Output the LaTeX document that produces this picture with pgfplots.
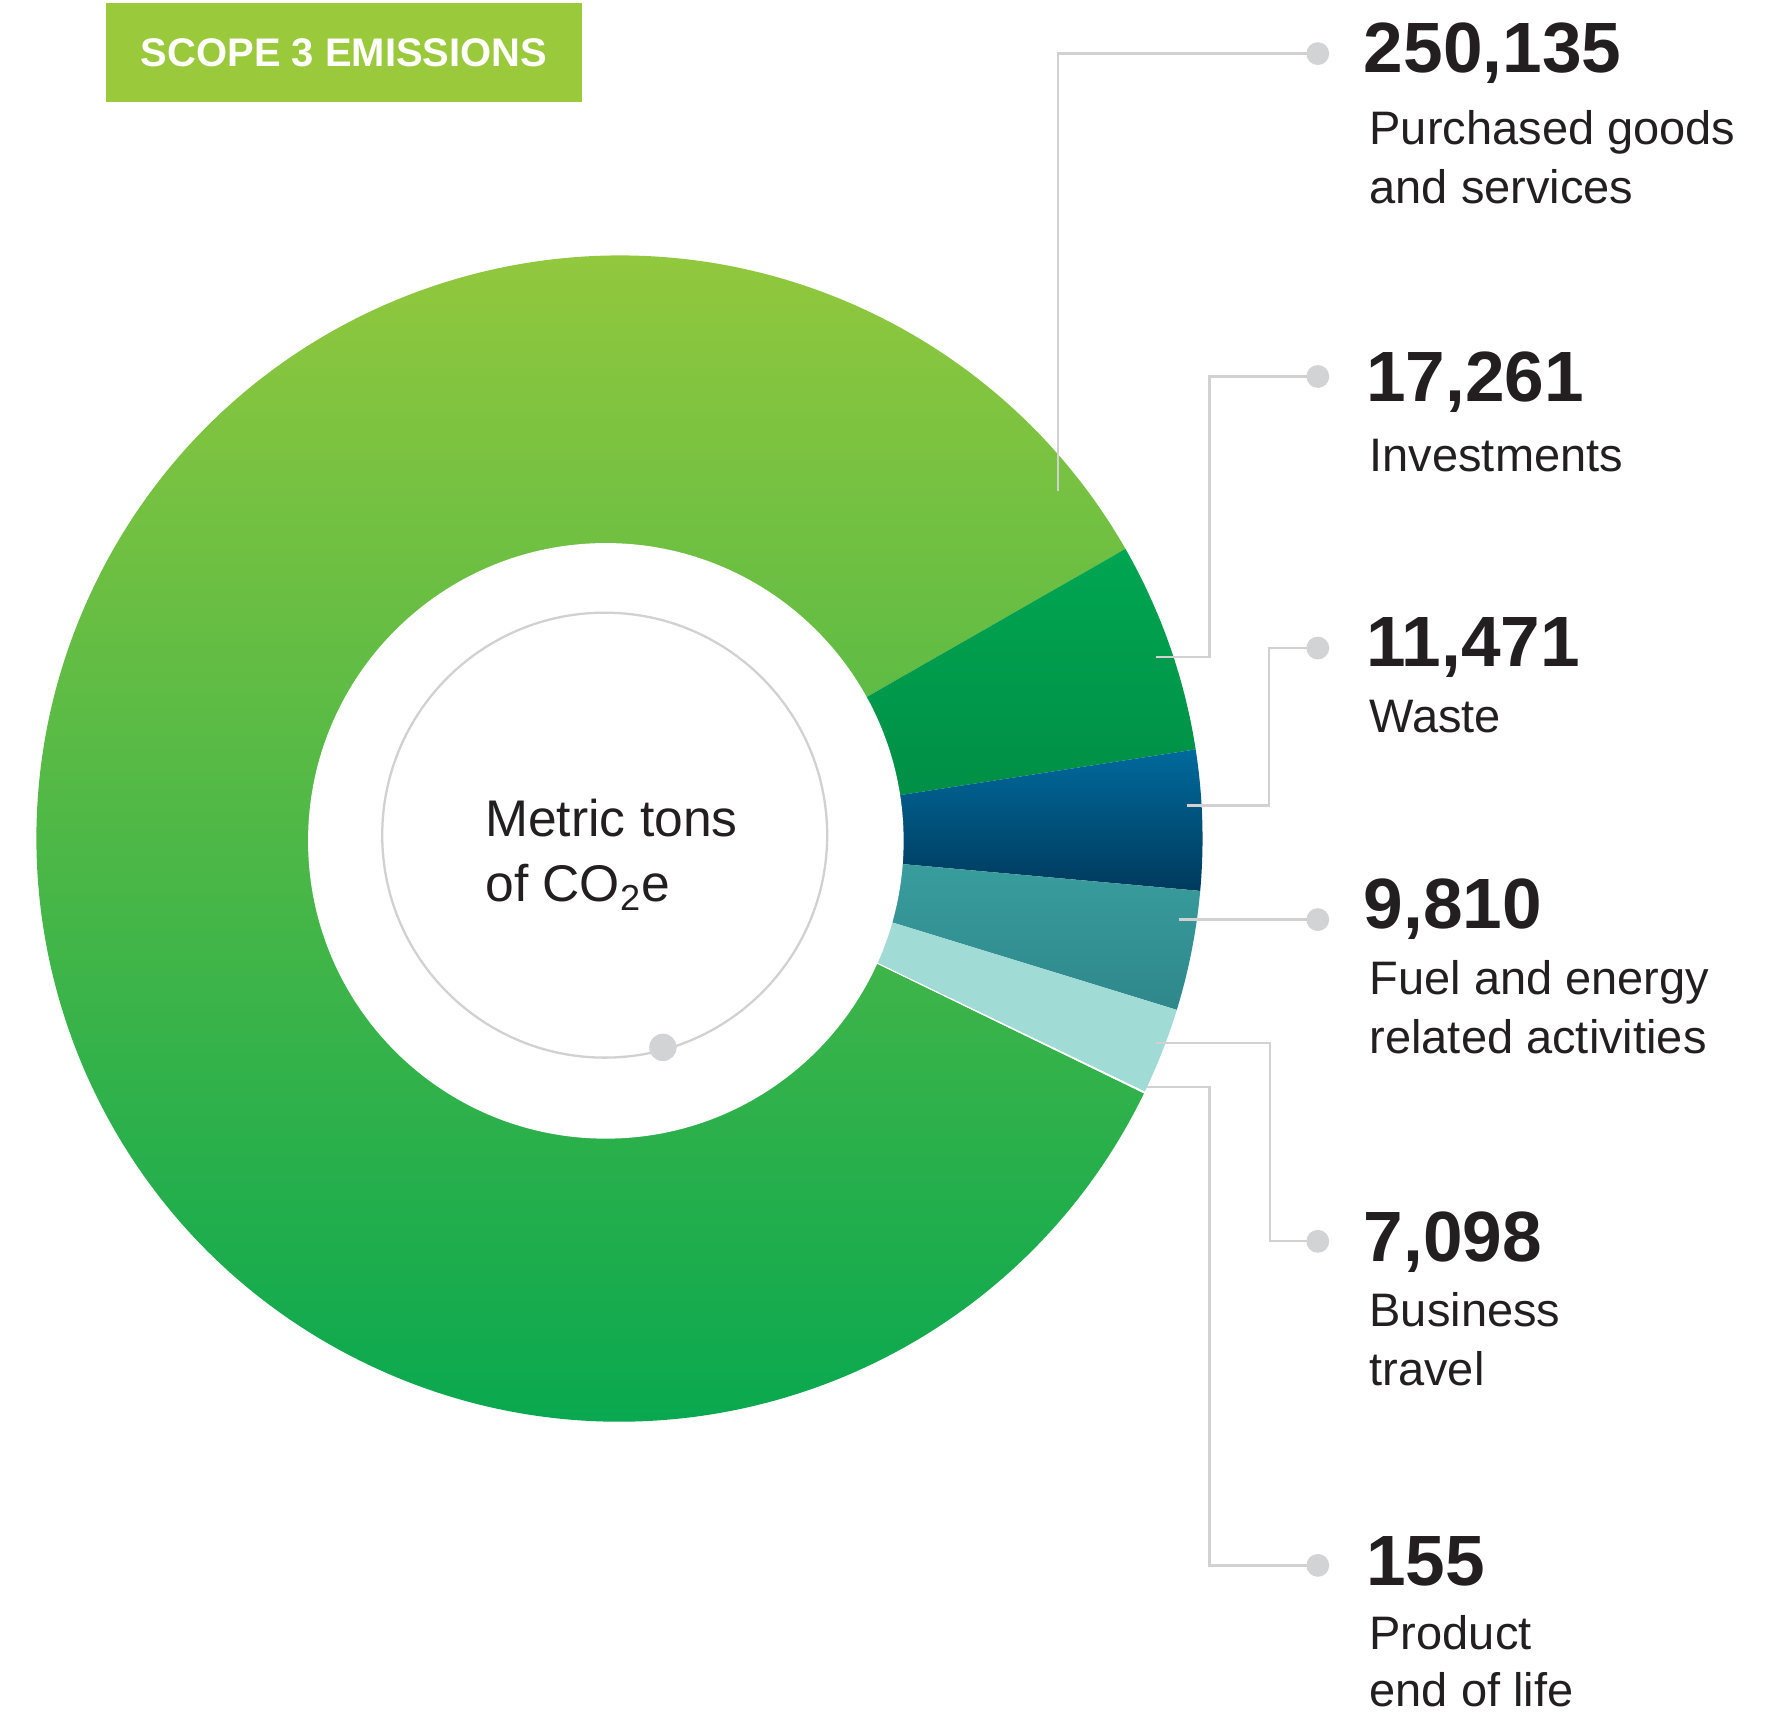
\documentclass[border=0pt]{standalone}
\usepackage{pgfplots}
\pgfplotsset{compat=1.18}
\usepackage{pgfplotstable}
\usepackage{fontspec}
\setmainfont{Liberation Sans}
\definecolor{txt}{HTML}{231F20}
\definecolor{boxgreen}{HTML}{9ACA3C}
\definecolor{pgTop}{HTML}{9BCA3C}
\definecolor{pgMid}{HTML}{84C441}
\definecolor{pgBot}{HTML}{00A651}
\definecolor{invTop}{HTML}{00A651}
\definecolor{invBot}{HTML}{008B44}
\definecolor{wasTop}{HTML}{006A9C}
\definecolor{wasBot}{HTML}{003A5D}
\definecolor{fuelTop}{HTML}{3BA1A0}
\definecolor{fuelBot}{HTML}{2E878B}
\definecolor{travel}{HTML}{A1DBD5}
\definecolor{leader}{HTML}{D1D1D1}
\definecolor{dot}{HTML}{D1D3D4}

\pgfplotstableread{
label value
Purchased 250135
Investments 17261
Waste 11471
Fuel 9810
Travel 7098
EndOfLife 155
}\scopedata

% donut geometry (axis units: 1 unit = 0.5pt)
\def\cx{543}\def\cy{767}
\def\Rout{255.5pt}

\newcommand\slice[4]{%
  \shade[top color=#3, bottom color=#4] (axis cs:\cx,\cy) -- ++(#1:\Rout)
     arc[start angle=#1, end angle=#2, radius=\Rout] -- cycle;}

\begin{document}%
\begin{tikzpicture}
\pgfplotstablegetelem{0}{value}\of\scopedata \edef\vA{\pgfplotsretval}
\pgfplotstablegetelem{1}{value}\of\scopedata \edef\vB{\pgfplotsretval}
\pgfplotstablegetelem{2}{value}\of\scopedata \edef\vC{\pgfplotsretval}
\pgfplotstablegetelem{3}{value}\of\scopedata \edef\vD{\pgfplotsretval}
\pgfplotstablegetelem{4}{value}\of\scopedata \edef\vE{\pgfplotsretval}
\pgfplotstablegetelem{5}{value}\of\scopedata \edef\vF{\pgfplotsretval}
\edef\total{\fpeval{\vA+\vB+\vC+\vD+\vE+\vF}}
\def\startang{29.8}
\edef\aB{\fpeval{round(\startang,4)}}
\edef\aC{\fpeval{round(\aB-360*\vB/\total,4)}}
\edef\aD{\fpeval{round(\aC-360*\vC/\total,4)}}
\edef\aE{\fpeval{round(\aD-360*\vD/\total,4)}}
\edef\aF{\fpeval{round(\aE-360*\vE/\total,4)}}
\edef\aG{\fpeval{round(\aF-360*\vF/\total,4)}}
\edef\aH{\fpeval{round(\aG-360*\vA/\total,4)}}
\begin{axis}[hide axis, x=0.5pt, y=0.5pt, xmin=0, xmax=1568, ymin=0, ymax=1502,
  clip=false, at={(0pt,0pt)}, anchor=south west]
% slices
\shade[top color=pgTop, middle color=pgMid, bottom color=pgBot]
  (axis cs:\cx,\cy) -- ++(\aG:\Rout) arc[start angle=\aG, end angle=\aH, radius=\Rout] -- cycle;
\slice{\aB}{\aC}{invTop}{invBot}
\slice{\aC}{\aD}{wasTop}{wasBot}
\slice{\aD}{\aE}{fuelTop}{fuelBot}
\slice{\aE}{\aF}{travel}{travel}
\fill[white] (axis cs:\cx,\cy) -- ++(\aF:\Rout) arc[start angle=\aF, end angle=\aG, radius=\Rout] -- cycle;
% hole
\fill[white] (axis cs:531,765) circle[radius=130.5pt];
\draw[leader, line width=1pt] (axis cs:530,770) circle[radius=97.5pt];
\fill[dot] (axis cs:581,584) circle[radius=6pt];
\node[anchor=base west, inner sep=0, text=txt, font=\fontsize{22.6}{27}\selectfont] at (axis cs:425,769) {Metric tons};
\node[anchor=base west, inner sep=0, text=txt, font=\fontsize{22.6}{27}\selectfont] at (axis cs:425,712) {of CO\textsubscript{2}e};
% title box
\fill[boxgreen] (axis cs:93,1413) rectangle (axis cs:510,1499);
\node[inner sep=0, text=white, font=\bfseries\fontsize{17.5}{20}\selectfont] at (axis cs:301.5,1456) {SCOPE 3 EMISSIONS};
% leaders
\begin{scope}[leader, line width=1pt]
\draw (axis cs:927,1072) -- (axis cs:927,1455) -- (axis cs:1155,1455);
\draw (axis cs:1013,926) -- (axis cs:1060,926) -- (axis cs:1060,1172) -- (axis cs:1155,1172);
\draw (axis cs:1040,796) -- (axis cs:1112,796) -- (axis cs:1112,934) -- (axis cs:1155,934);
\draw (axis cs:1033,696) -- (axis cs:1155,696);
\draw (axis cs:1013,588) -- (axis cs:1113,588) -- (axis cs:1113,414) -- (axis cs:1155,414);
\draw (axis cs:1005,549) -- (axis cs:1060,549) -- (axis cs:1060,130) -- (axis cs:1155,130);
\end{scope}
\fill[dot] (axis cs:1155,1455) circle[radius=5pt];
\fill[dot] (axis cs:1155,1172) circle[radius=5pt];
\fill[dot] (axis cs:1155,934) circle[radius=5pt];
\fill[dot] (axis cs:1155,696) circle[radius=5pt];
\fill[dot] (axis cs:1155,414) circle[radius=5pt];
\fill[dot] (axis cs:1155,130) circle[radius=5pt];
% numbers
\tikzset{num/.style={anchor=base west, inner sep=0, text=txt, font=\bfseries\fontsize{31.2}{36}\selectfont},
         lab/.style={anchor=base west, inner sep=0, text=txt, font=\fontsize{20.6}{25}\selectfont}}
\node[num] at (axis cs:1195,1438) {250,135};
\node[num] at (axis cs:1197,1150) {17,261};
\node[num] at (axis cs:1197,918) {11,471};
\node[num] at (axis cs:1195,688) {9,810};
\node[num] at (axis cs:1195,396) {7,098};
\node[num] at (axis cs:1197,112) {155};
\node[lab] at (axis cs:1200,1375) {Purchased goods};
\node[lab] at (axis cs:1200,1324) {and services};
\node[lab] at (axis cs:1200,1089) {Investments};
\node[lab] at (axis cs:1200,860) {Waste};
\node[lab] at (axis cs:1200,630) {Fuel and energy};
\node[lab] at (axis cs:1200,579) {related activities};
\node[lab] at (axis cs:1200,339) {Business};
\node[lab] at (axis cs:1200,288) {travel};
\node[lab] at (axis cs:1200,56) {Product};
\node[lab] at (axis cs:1200,6) {end of life};
\end{axis}
\pgfresetboundingbox
\useasboundingbox (0pt,0pt) rectangle (784pt,751pt);
\end{tikzpicture}%
\end{document}
